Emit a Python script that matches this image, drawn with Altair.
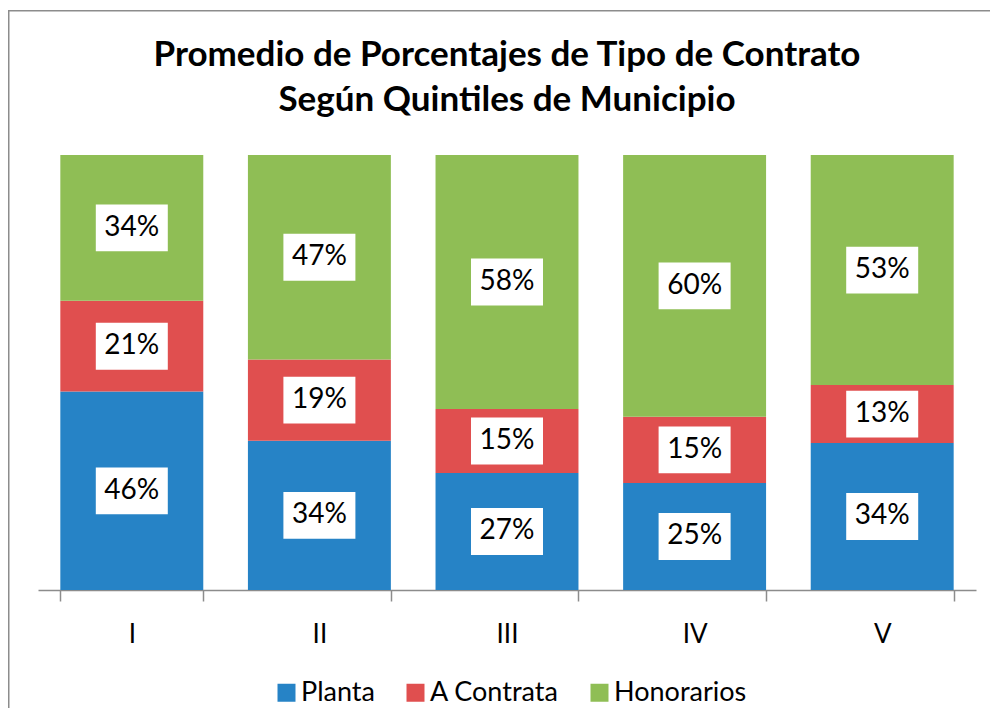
import altair as alt
import pandas as pd

quintiles = ["I", "II", "III", "IV", "V"]
series = ["Planta", "A Contrata", "Honorarios"]
planta = [45.7, 34.3, 26.9, 24.6, 33.8]
contrata = [20.9, 18.7, 14.7, 15.2, 13.3]
honorarios = [33.6, 47.0, 58.4, 60.2, 52.9]
colors = ["#2683C6", "#E04F4F", "#8FBE55"]
title_lines = ["Promedio de Porcentajes de Tipo de Contrato", "Según Quintiles de Municipio"]

rows = []
for i, q in enumerate(quintiles):
    vals = [planta[i], contrata[i], honorarios[i]]
    tot = sum(vals)
    cum = 0.0
    for j, s in enumerate(series):
        v = vals[j]
        rows.append(dict(q=q, tipo=s, orden=j, y0=cum / tot, y1=(cum + v) / tot,
                         mid=(cum + v / 2) / tot, label=f"{round(v)}%"))
        cum += v
df = pd.DataFrame(rows)

W, H = 938, 435
PL, PT, PR, PB = 30, 147, 14, 118
FONT = "Lato"

xscale = alt.Scale(paddingInner=0.238, paddingOuter=0.119)
xaxis = alt.Axis(title=None, labelAngle=0, tickBand="extent", domainColor="#8c8c8c",
                 tickColor="#8c8c8c", tickSize=11, domainWidth=1.5, tickWidth=1.5,
                 labelFontSize=26, labelFont=FONT, labelColor="black", labelPadding=20)
yscale = alt.Scale(domain=[0, 1])

def xenc():
    return alt.X("q:N", sort=quintiles, scale=xscale, axis=xaxis)

bars = alt.Chart(df).mark_bar().encode(
    x=xenc(),
    y=alt.Y("y0:Q", scale=yscale, axis=None),
    y2="y1:Q",
    color=alt.Color("tipo:N", scale=alt.Scale(domain=series, range=colors),
                    legend=alt.Legend(title=None, orient="none", direction="horizontal",
                                      legendX=235, legendY=524, padding=0,
                                      symbolType="square", symbolSize=324, symbolStrokeWidth=0,
                                      labelFontSize=27, labelFont=FONT, labelColor="black",
                                      columnPadding=27, symbolOffset=0, labelOffset=1)),
    order=alt.Order("orden:Q"),
)

box_path = "M-1,-0.65 L1,-0.65 L1,0.65 L-1,0.65 Z"
boxes = alt.Chart(df).mark_point(shape=box_path, size=72 * 72, filled=True, fill="white",
                                  opacity=1, strokeWidth=0).encode(
    x=xenc(), y=alt.Y("mid:Q", scale=yscale, axis=None))

labels = alt.Chart(df).mark_text(fontSize=28, font=FONT, color="black", baseline="middle").encode(
    x=xenc(), y=alt.Y("mid:Q", scale=yscale, axis=None), text="label:N")

one = pd.DataFrame({"k": [0]})
frame_top = alt.Chart(one).mark_rect(color="#8c8c8c", strokeWidth=0).encode(
    x=alt.value(-30), x2=alt.value(W + PR), y=alt.value(-145), y2=alt.value(-143.5))
frame_left = alt.Chart(one).mark_rect(color="#8c8c8c", strokeWidth=0).encode(
    x=alt.value(-30), x2=alt.value(-28.5), y=alt.value(-145), y2=alt.value(H + PB))

t1 = alt.Chart(one).mark_text(fontSize=35, font=FONT, fontWeight="bold", color="black",
                              baseline="middle").encode(
    x=alt.value(W / 2), y=alt.value(-100), text=alt.value(title_lines[0]))
t2 = alt.Chart(one).mark_text(fontSize=35, font=FONT, fontWeight="bold", color="black",
                              baseline="middle").encode(
    x=alt.value(W / 2), y=alt.value(-55), text=alt.value(title_lines[1]))

chart = alt.layer(frame_top, frame_left, bars, boxes, labels, t1, t2).properties(
    width=W, height=H,
    autosize=alt.AutoSizeParams(type="none"),
    padding={"left": PL, "top": PT, "right": PR, "bottom": PB},
).configure_view(stroke=None)

chart.save("out.html", embed_options={"renderer": "svg", "actions": False})
